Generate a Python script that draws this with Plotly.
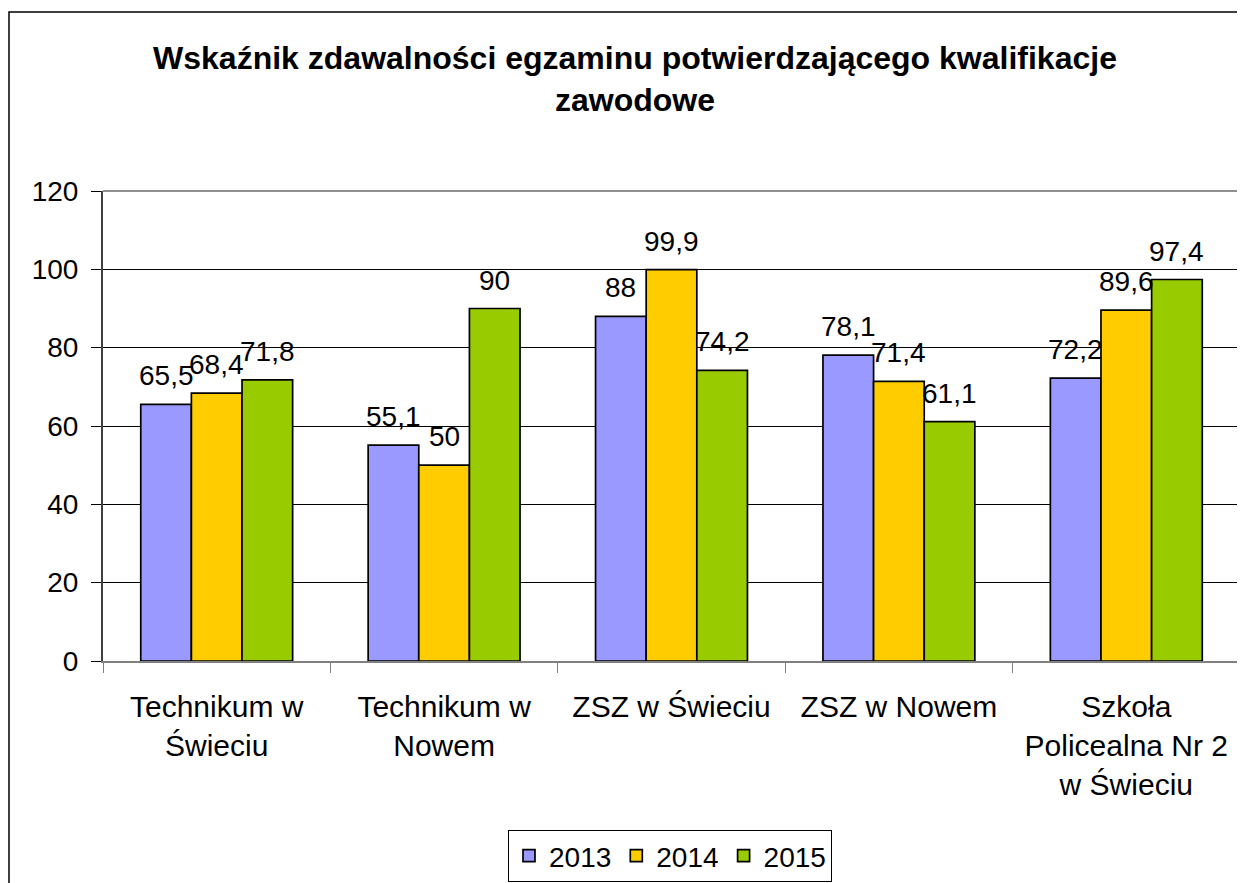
import plotly.graph_objects as go

categories = ["Technikum w<br>Świeciu", "Technikum w<br>Nowem", "ZSZ w Świeciu",
              "ZSZ w Nowem", "Szkoła<br>Policealna Nr 2<br>w Świeciu"]
years = ["2013", "2014", "2015"]
v2013 = [65.5, 55.1, 88, 78.1, 72.2]
v2014 = [68.4, 50, 99.9, 71.4, 89.6]
v2015 = [71.8, 90, 74.2, 61.1, 97.4]
colors = ["#9999FF", "#FFCC00", "#99CC00"]
y_ticks = [0, 20, 40, 60, 80, 100, 120]

W, H = 1245, 883
OFF = 8  # page body margin
# plot area in screenshot pixels: x 103..1240, y 191..661
ml = 103 - OFF
mt = 191 - OFF
mr = W - (1240 - OFF)
mb = H - (661 - OFF)
pw, ph = W - ml - mr, H - mt - mb
bargap = 0.332
bar_px = pw / len(categories) * (1 - bargap) / len(years)
FONT = "Arial, Liberation Sans, sans-serif"


def fmt(v):
    return ("%g" % v).replace(".", ",")


def py(pix):  # screenshot pixel row -> paper y
    return (H - mb - (pix - OFF)) / ph


def px(pix):  # screenshot pixel column -> paper x
    return (pix - OFF - ml) / pw


fig = go.Figure()
annotations = []
for i, (name, vals, col) in enumerate(zip(years, [v2013, v2014, v2015], colors)):
    fig.add_trace(go.Bar(
        x=categories, y=vals, name=name,
        marker=dict(color=col, line=dict(color="black", width=1.7)),
    ))
    for c, v in zip(categories, vals):
        annotations.append(dict(
            x=c, y=v, xref="x", yref="y", text=fmt(v), showarrow=False,
            xanchor="center", yanchor="bottom", xshift=(i - 1) * bar_px, yshift=11,
            font=dict(size=28, color="black", family=FONT),
        ))

fig.update_layout(
    width=W, height=H,
    margin=dict(l=ml, r=mr, t=mt, b=mb, autoexpand=False),
    paper_bgcolor="white", plot_bgcolor="white",
    font=dict(family=FONT, size=28, color="black"),
    barmode="group", bargap=bargap, bargroupgap=0,
    title=dict(text="<b>Wskaźnik zdawalności egzaminu potwierdzającego kwalifikacje<br>zawodowe</b>",
               x=px(635), xref="paper", xanchor="center", y=1 - 61 / H, yanchor="top",
               font=dict(size=32, family=FONT, color="black")),
    legend=dict(orientation="h", x=px(670), xanchor="center", y=py(830), yanchor="top",
                bordercolor="black", borderwidth=1, bgcolor="white",
                font=dict(size=28, family=FONT), traceorder="normal"),
    showlegend=True,
    annotations=annotations,
)
fig.update_yaxes(range=[0, 120], tickvals=y_ticks, showgrid=True, gridcolor="black", gridwidth=1,
                 ticks="outside", ticklen=10, tickcolor="black", showline=True,
                 linecolor="#404040", linewidth=2, zeroline=False,
                 tickfont=dict(size=28, family=FONT), ticklabelstandoff=7)
fig.update_xaxes(ticks="outside", tickson="boundaries", ticklen=10, tickcolor="#808080",
                 showline=True, linecolor="#808080", linewidth=1.5,
                 tickfont=dict(size=30, family=FONT), ticklabelstandoff=18)

# plot area border (top/right) in gray, drawn over the top gridline
fig.add_shape(type="line", xref="paper", yref="paper", x0=0, x1=1, y0=1, y1=1,
              line=dict(color="#909090", width=2), layer="above")
fig.add_shape(type="line", xref="paper", yref="paper", x0=1, x1=1, y0=0, y1=1,
              line=dict(color="#909090", width=2), layer="above")
# outer chart border
fig.add_shape(type="rect", xref="paper", yref="paper",
              x0=px(9), x1=px(1243), y0=py(900), y1=py(12),
              line=dict(color="black", width=1.5))

fig.write_html("out.html")
